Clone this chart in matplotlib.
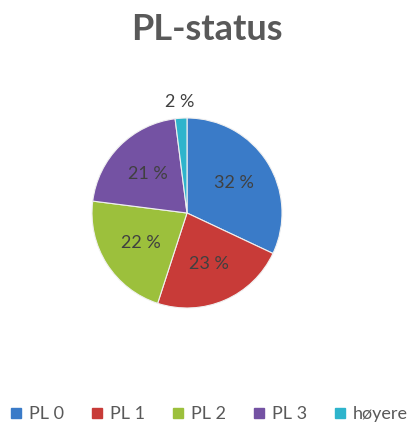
import matplotlib
matplotlib.use("Agg")
import matplotlib.pyplot as plt
from matplotlib.lines import Line2D
import numpy as np

categories = ["PL 0", "PL 1", "PL 2", "PL 3", "høyere"]
values = [32, 23, 22, 21, 2]
colors = ["#3A7BC8", "#C83B38", "#9CC03C", "#7452A3", "#2EB4CC"]

W, H = 417, 429
fig = plt.figure(figsize=(W / 100, H / 100), dpi=100)
fig.patch.set_facecolor("white")

cx, cy, r = 187, 213, 95
ax = fig.add_axes([(cx - r) / W, (H - cy - r) / H, 2 * r / W, 2 * r / H])
wedges, _ = ax.pie(values, colors=colors, startangle=90, counterclock=False,
                   radius=1.0, wedgeprops=dict(edgecolor="#f0f0f0", linewidth=0.8))
ax.set_xlim(-1, 1)
ax.set_ylim(-1, 1)
ax.set_aspect("equal")
ax.axis("off")

font = "Lato"
for w, v in zip(wedges, values):
    ang = np.deg2rad((w.theta1 + w.theta2) / 2)
    d = 1.17 if v < 5 else 0.58
    ax.text(d * np.cos(ang), d * np.sin(ang), f"{v} %", ha="center", va="center",
            fontsize=13, color="#404040", family=font)

fig.text(207 / W, 1 - 30 / H, "PL-status", ha="center", va="center",
         fontsize=26, fontweight="bold", color="#595959", family=font)

handles = [Line2D([], [], marker="s", linestyle="", markersize=7.5,
                  markerfacecolor=c, markeredgecolor=c) for c in colors]
fig.legend(handles, categories, loc="center", bbox_to_anchor=(209 / W, 1 - 414 / H),
           ncol=5, frameon=False, handlelength=0.7, handletextpad=0.35,
           columnspacing=1.5, prop=dict(family=font, size=13),
           labelcolor="#595959")

fig.savefig("out.png", dpi=100, facecolor="white")
